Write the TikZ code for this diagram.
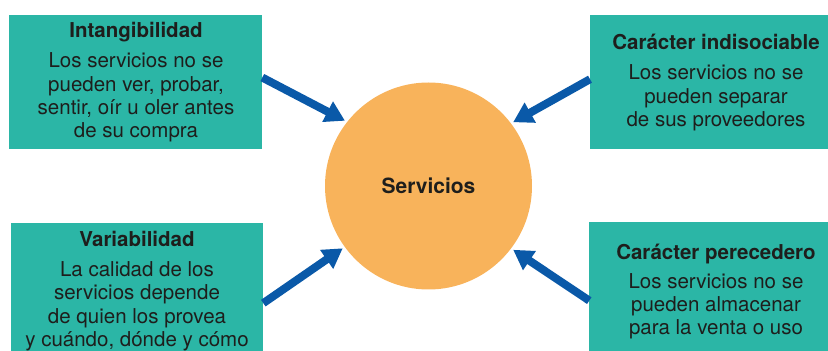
\documentclass[tikz,border=0pt]{standalone}
\usepackage{fontspec}
\setmainfont{TeX Gyre Heros}
\usetikzlibrary{arrows.meta}
\definecolor{teal1}{HTML}{2BB6A6}
\definecolor{orange1}{HTML}{F8B35B}
\definecolor{blue1}{HTML}{0A59A8}
\definecolor{ink}{HTML}{1E1E1C}
\tikzset{
  box/.style={fill=teal1, draw=none, inner sep=0pt, outer sep=0pt},
  txt/.style={align=center, inner sep=0pt, outer sep=0pt, text=ink, anchor=north,
    font=\fontsize{20.5pt}{23.3pt}\selectfont},
  arr/.style={draw=blue1, line width=8pt, -{Triangle[length=19.6pt, width=21.8pt]}},
  hub/.style={circle, fill=orange1, draw=none, minimum size=207pt, inner sep=0pt,
    outer sep=2.5pt, text=ink, font=\fontsize{21pt}{25pt}\selectfont\bfseries}
}
\begin{document}
\begin{tikzpicture}[x=1pt, y=1pt]
\useasboundingbox (0,0) rectangle (828,351);
\clip (0,0) rectangle (828,351);
% boxes
\node[box, minimum width=253pt, minimum height=134.3pt] (tl) at (135.8,268.85) {};
\node[box, minimum width=250pt, minimum height=134pt] (tr) at (715,269) {};
\node[box, minimum width=252.6pt, minimum height=159.7pt] (bl) at (137,47.85) {};
\node[box, minimum width=250.7pt, minimum height=156.7pt] (br) at (714.65,50.35) {};
% texts
\node[txt] (tlt) at (136,329) {\rule{0pt}{16pt}\textbf{Intangibilidad}\\[6.7pt]Los servicios no se\\pueden ver, probar,\\sentir, oír u oler antes\\de su compra};
\node[txt] (trt) at (716,317) {\rule{0pt}{16pt}\textbf{Carácter indisociable}\\[6.7pt]Los servicios no se\\pueden separar\\de sus proveedores};
\node[txt] (blt) at (137,120.3) {\rule{0pt}{16pt}\textbf{Variabilidad}\\[6.7pt]La calidad de los\\servicios depende\\de quien los provea\\y cuándo, dónde y cómo};
\node[txt] (brt) at (716,107) {\rule{0pt}{16pt}\textbf{Carácter perecedero}\\[5pt]Los servicios no se\\pueden almacenar\\para la venta o uso};
% hub
\node[hub] (hub) at (428.5,165) {Servicios};
% arrows
\draw[arr] ([yshift=4.6pt]tl.east) -- (hub.142.6);
\draw[arr] ([yshift=2.8pt]tr.west) -- (hub.37.6);
\draw[arr] (bl.east) -- (hub.216.8);
\draw[arr] (br.west) -- (hub.323.7);
\end{tikzpicture}
\end{document}
